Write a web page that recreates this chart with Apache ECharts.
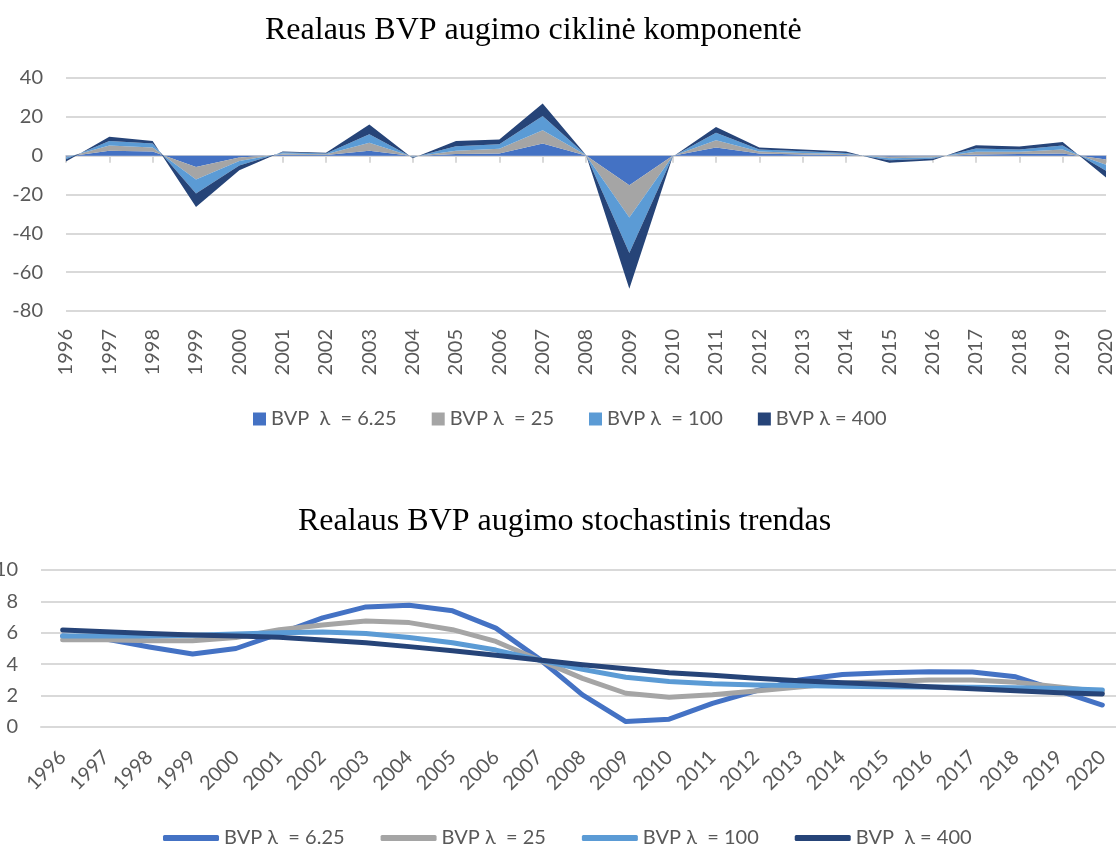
<!DOCTYPE html>
<html>
<head>
<meta charset="utf-8">
<title>Realaus BVP augimas</title>
<script src="https://cdn.jsdelivr.net/npm/echarts@6.0.0/dist/echarts.min.js"></script>
<style>
  html, body { margin: 0; padding: 0; background: #fff; }
  #cycle { position: absolute; left: 0; top: 0; width: 1116px; height: 450px; }
  #trend { position: absolute; left: 0; top: 450px; width: 1116px; height: 396px; }
</style>
</head>
<body>
<div id="cycle"></div>
<div id="trend"></div>
<script>
// metai
const years = ['1996', '1997', '1998', '1999', '2000', '2001', '2002', '2003', '2004', '2005', '2006', '2007', '2008',
  '2009', '2010', '2011', '2012', '2013', '2014', '2015', '2016', '2017', '2018', '2019', '2020'];

// ciklinė komponentė (sluoksniai, sudedami vienas ant kito)
const cycleNames = ['BVP  λ  = 6.25', 'BVP λ  = 25', 'BVP λ  = 100', 'BVP λ = 400'];
const cycle625 = [-0.5, 2.5, 2.1, -5.8, -1.0, 0.5, 0.3, 2.5, -0.2, 0.8, 1.1, 6.3, 0.1, -15.2, -0.1, 4.2, 1.1, 0.6, 0.3, -0.5, -0.3, 0.6, 0.8, 1.1, -2.0];
const cycle25 = [-0.5, 2.7, 2.1, -6.5, -1.8, 0.6, 0.4, 4.1, -0.3, 1.7, 2.4, 6.8, 0.1, -16.7, -0.1, 3.8, 1.1, 0.8, 0.5, -0.8, -0.6, 1.4, 1.2, 2.1, -2.7];
const cycle100 = [-0.8, 2.4, 2.1, -7.2, -2.2, 0.6, 0.4, 4.4, -0.5, 2.4, 2.4, 7.3, 0.1, -18.2, -0.2, 3.8, 1.0, 0.9, 0.6, -1.1, -0.7, 1.7, 1.2, 2.1, -3.1];
const cycle400 = [-1.2, 2.1, 1.3, -6.9, -2.5, 0.5, 0.4, 5.0, -0.3, 2.7, 2.4, 6.5, 0.1, -18.4, -0.2, 3.0, 1.0, 0.9, 0.8, -1.3, -0.7, 1.7, 1.5, 1.8, -3.4];

// stochastinis trendas
const trendNames = ['BVP λ  = 6.25', 'BVP λ  = 25', 'BVP λ  = 100', 'BVP  λ = 400'];
const trend625 = [5.8, 5.6, 5.1, 4.65, 5.0, 5.95, 6.95, 7.65, 7.75, 7.4, 6.3, 4.35, 2.05, 0.35, 0.5, 1.5, 2.3, 3.0, 3.35, 3.45, 3.52, 3.5, 3.2, 2.3, 1.4];
const trend25 = [5.55, 5.55, 5.5, 5.5, 5.7, 6.2, 6.5, 6.75, 6.65, 6.2, 5.45, 4.27, 3.1, 2.15, 1.9, 2.05, 2.3, 2.55, 2.8, 2.9, 3.0, 3.0, 2.85, 2.55, 2.25];
const trend100 = [5.8, 5.8, 5.8, 5.85, 5.92, 6.0, 6.05, 5.96, 5.7, 5.37, 4.9, 4.27, 3.67, 3.17, 2.9, 2.75, 2.67, 2.65, 2.6, 2.56, 2.55, 2.53, 2.5, 2.45, 2.36];
const trend400 = [6.18, 6.07, 5.96, 5.86, 5.8, 5.71, 5.54, 5.37, 5.12, 4.86, 4.57, 4.27, 3.97, 3.71, 3.46, 3.29, 3.1, 2.95, 2.82, 2.7, 2.57, 2.44, 2.31, 2.18, 2.1];

const colors = ['#4472C4', '#A5A5A5', '#5B9BD5', '#264478'];
const labelFont = 'Lato, "Open Sans", sans-serif';
const titleFont = '"Liberation Serif", serif';
const gridColor = '#D9D9D9';

// ---- viršutinis: ciklinė komponentė ----
const cycleData = [cycle625, cycle25, cycle100, cycle400];
const cycleChart = echarts.init(document.getElementById('cycle'));
cycleChart.setOption({
  animation: false,
  color: colors,
  title: {
    text: 'Realaus BVP augimo ciklinė komponentė',
    left: 260,
    top: 10,
    textStyle: { fontFamily: titleFont, fontSize: 32, fontWeight: 'normal', color: '#000' },
  },
  legend: {
    left: 248,
    top: 404,
    icon: 'rect',
    itemWidth: 13,
    itemHeight: 13,
    itemGap: 35,
    textStyle: { fontFamily: labelFont, fontSize: 20, color: '#595959' },
    data: cycleNames,
  },
  grid: { left: 66, right: 10, top: 78, height: 233, outerBoundsMode: 'none' },
  xAxis: [
    {
      // tik užrašai apačioje
      type: 'category',
      data: years,
      boundaryGap: false,
      axisLine: { show: false, onZero: false },
      axisTick: { show: false },
      axisLabel: { rotate: 90, margin: 18, fontFamily: labelFont, fontSize: 20, color: '#595959' },
    },
    {
      // ašis ties nuliu
      type: 'category',
      data: years,
      boundaryGap: false,
      position: 'bottom',
      axisLine: { onZero: true, lineStyle: { color: gridColor, width: 2 } },
      axisTick: { show: true, length: 7, lineStyle: { color: gridColor, width: 2 } },
      axisLabel: { show: false },
    },
  ],
  yAxis: {
    type: 'value',
    min: -80,
    max: 40,
    interval: 20,
    axisLine: { show: false },
    axisTick: { show: false },
    axisLabel: { margin: 23, fontFamily: labelFont, fontSize: 20, color: '#595959' },
    splitLine: { lineStyle: { color: gridColor, width: 2 } },
  },
  series: cycleData.map((d, i) => ({
    name: cycleNames[i],
    type: 'line',
    stack: 'cikl',
    data: d,
    symbol: 'none',
    lineStyle: { width: 0 },
    areaStyle: { opacity: 1, color: colors[i] },
  })),
});

// ---- apatinis: stochastinis trendas ----
const trendData = [trend625, trend25, trend100, trend400];
const trendChart = echarts.init(document.getElementById('trend'));
trendChart.setOption({
  animation: false,
  color: colors,
  title: {
    text: 'Realaus BVP augimo stochastinis trendas',
    left: 293,
    top: 51,
    textStyle: { fontFamily: titleFont, fontSize: 32, fontWeight: 'normal', color: '#000' },
  },
  legend: {
    left: 158,
    top: 373,
    icon: 'roundRect',
    itemWidth: 56,
    itemHeight: 6,
    itemGap: 36,
    textStyle: { fontFamily: labelFont, fontSize: 20, color: '#595959' },
    data: trendNames,
  },
  // dešinė dalis nukirpta kaip originale
  grid: { left: 41, right: -8, top: 120, height: 157, outerBoundsMode: 'none' },
  xAxis: {
    type: 'category',
    data: years,
    boundaryGap: true,
    axisLine: { lineStyle: { color: gridColor, width: 2 } },
    axisTick: { show: false },
    axisLabel: { rotate: 45, margin: 27, interval: 0, fontFamily: labelFont, fontSize: 20, color: '#595959' },
  },
  yAxis: {
    type: 'value',
    min: 0,
    max: 10,
    interval: 2,
    axisLine: { show: false },
    axisTick: { show: false },
    axisLabel: { margin: 23, fontFamily: labelFont, fontSize: 20, color: '#595959' },
    splitLine: { lineStyle: { color: gridColor, width: 2 } },
  },
  series: trendData.map((d, i) => ({
    name: trendNames[i],
    type: 'line',
    data: d,
    symbol: 'none',
    lineStyle: { width: 5, color: colors[i], cap: 'round', join: 'round' },
    itemStyle: { color: colors[i] },
  })),
});
</script>
</body>
</html>
